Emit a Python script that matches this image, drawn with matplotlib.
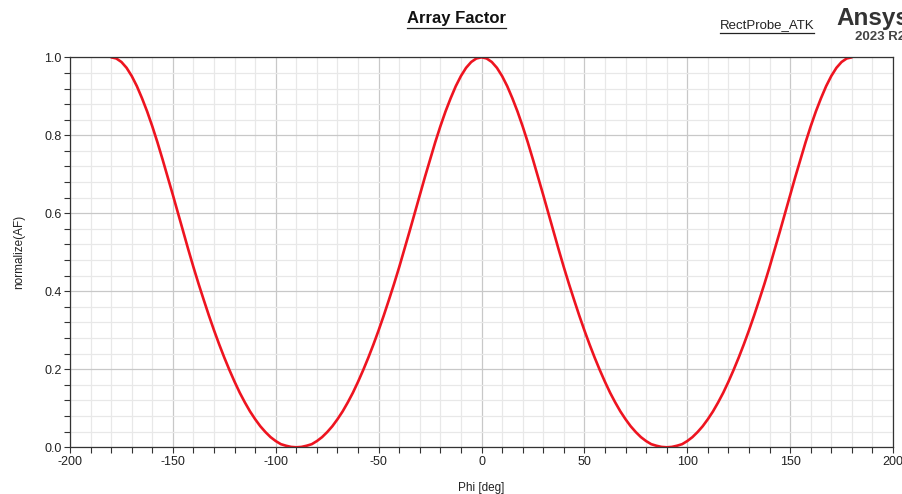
import matplotlib
matplotlib.use("Agg")
import matplotlib.pyplot as plt
from matplotlib.lines import Line2D
from matplotlib.ticker import MultipleLocator
import numpy as np

plt.rcParams["font.family"] = ["Liberation Sans", "DejaVu Sans"]

# Phi [deg] in 2.5 degree steps
phi = np.arange(-180, 180.1, 2.5)
af = [
    # -180 .. -90
    1.000, 0.997, 0.988, 0.973, 0.952, 0.926, 0.895, 0.861, 0.823, 0.782,
    0.738, 0.693, 0.647, 0.600, 0.553, 0.507, 0.462, 0.419, 0.378, 0.338,
    0.300, 0.264, 0.230, 0.198, 0.168, 0.140, 0.115, 0.092, 0.072, 0.054,
    0.039, 0.026, 0.016, 0.008, 0.004, 0.001, 0.000,
    # -87.5 .. 0
    0.001, 0.004, 0.008, 0.016, 0.026, 0.039, 0.054, 0.072, 0.092, 0.115,
    0.140, 0.168, 0.198, 0.230, 0.264, 0.300, 0.338, 0.378, 0.419, 0.462,
    0.507, 0.553, 0.600, 0.647, 0.693, 0.738, 0.782, 0.823, 0.861, 0.895,
    0.926, 0.952, 0.973, 0.988, 0.997, 1.000,
    # 2.5 .. 90
    0.997, 0.988, 0.973, 0.952, 0.926, 0.895, 0.861, 0.823, 0.782, 0.738,
    0.693, 0.647, 0.600, 0.553, 0.507, 0.462, 0.419, 0.378, 0.338, 0.300,
    0.264, 0.230, 0.198, 0.168, 0.140, 0.115, 0.092, 0.072, 0.054, 0.039,
    0.026, 0.016, 0.008, 0.004, 0.001, 0.000,
    # 92.5 .. 180
    0.001, 0.004, 0.008, 0.016, 0.026, 0.039, 0.054, 0.072, 0.092, 0.115,
    0.140, 0.168, 0.198, 0.230, 0.264, 0.300, 0.338, 0.378, 0.419, 0.462,
    0.507, 0.553, 0.600, 0.647, 0.693, 0.738, 0.782, 0.823, 0.861, 0.895,
    0.926, 0.952, 0.973, 0.988, 0.997, 1.000,
]

x_ticks = [-200, -150, -100, -50, 0, 50, 100, 150, 200]
y_ticks = [0.0, 0.2, 0.4, 0.6, 0.8, 1.0]

W, H = 902, 494
fig = plt.figure(figsize=(W / 100, H / 100), dpi=100)
ax = fig.add_axes([70 / W, 1 - 447.3 / H, (893 - 70) / W, (447.3 - 57.3) / H])

ax.plot(phi, af, color="#ee1420", lw=1.9, solid_capstyle="round",
        solid_joinstyle="round")

ax.set_xlim(-200, 200)
ax.set_ylim(0, 1)
ax.set_xticks(x_ticks)
ax.set_xticklabels([str(t) for t in x_ticks])
ax.set_yticks(y_ticks)
ax.set_yticklabels([f"{t:.1f}" for t in y_ticks])
ax.xaxis.set_minor_locator(MultipleLocator(10))
ax.yaxis.set_minor_locator(MultipleLocator(0.04))
ax.tick_params(which="both", direction="out", length=4, width=0.8, color="#333333",
               labelsize=9, labelcolor="#222222", pad=2)
ax.grid(which="major", color="#c8c8c8", lw=0.9)
ax.grid(which="minor", color="#e8e8e8", lw=0.9)
ax.set_axisbelow(True)
for s in ax.spines.values():
    s.set_color("#333333")
    s.set_linewidth(0.9)

ax.set_xlabel("Phi [deg]", fontsize=8.5, color="#222222", labelpad=10)
ax.set_ylabel("normalize(AF)", fontsize=8.5, color="#222222", labelpad=14)

# header texts
title = fig.text(457 / W, 1 - 19 / H, "Array Factor", ha="center", va="center",
                 fontsize=12, fontweight="bold", color="#111111")
legend = fig.text(767 / W, 1 - 25 / H, "RectProbe_ATK", ha="center", va="center",
                  fontsize=9.5, color="#222222")
fig.text(836 / W, 1 - 19 / H, "Ansys", ha="left", va="center",
         fontsize=17.5, fontweight="bold", color="#333333")
fig.text(855 / W, 1 - 37 / H, "2023 R2", ha="left", va="center",
         fontsize=9.5, fontweight="bold", color="#444444")

# underline title and legend entry
renderer = fig.canvas.get_renderer()
for t, gap in [(title, 2), (legend, 2)]:
    bb = t.get_window_extent(renderer)
    yline = (bb.y0 - gap) / H
    fig.add_artist(Line2D([bb.x0 / W, bb.x1 / W], [yline, yline],
                          color="#222222", lw=0.9))

fig.savefig("out.png", dpi=100)
